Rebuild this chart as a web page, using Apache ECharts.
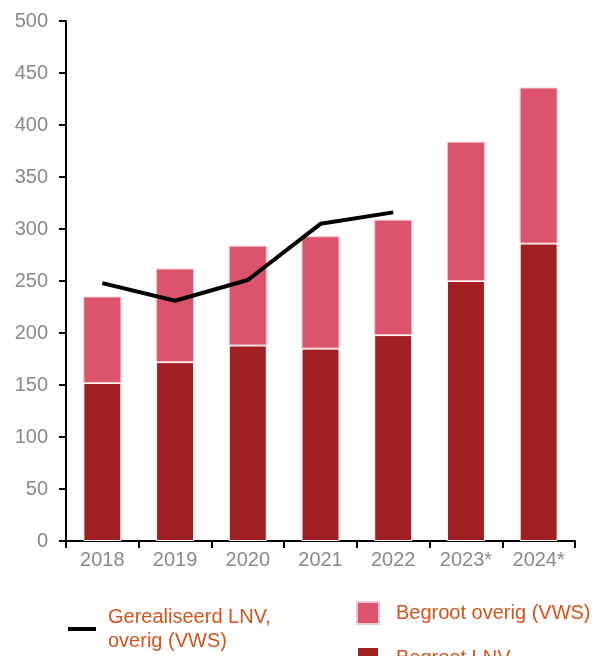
<!DOCTYPE html>
<html>
<head>
<meta charset="utf-8">
<script src="https://cdn.jsdelivr.net/npm/echarts@6/dist/echarts.min.js"></script>
<style>
html,body{margin:0;padding:0;background:#fff;}
#chart{width:608px;height:656px;}
</style>
</head>
<body>
<div id="chart"></div>
<script>
var jaren = ['2018', '2019', '2020', '2021', '2022', '2023*', '2024*'];
var begrootLNV = [152, 172, 188, 185, 198, 250, 286];
var begrootOverig = [83, 90, 96, 108, 111, 134, 150];
var gerealiseerd = [248, 231, 251, 305, 316, null, null];

var labelGrijs = '#8a8a8a';
var oranje = '#d4541b';

var chart = echarts.init(document.getElementById('chart'));
chart.setOption({
    animation: false,
    textStyle: {fontFamily: 'Liberation Sans, Arial, sans-serif'},
    grid: {left: 66, right: 33, top: 21, bottom: 115},
    legend: [
        {
            left: 68,
            top: 605,
            padding: 0,
            icon: 'rect',
            itemWidth: 28,
            itemHeight: 4,
            data: ['Gerealiseerd LNV,\noverig (VWS)'],
            textStyle: {color: oranje, fontSize: 20, lineHeight: 24, padding: [0, 0, 0, 7]}
        },
        {
            left: 356,
            top: 601,
            padding: 0,
            icon: 'rect',
            itemWidth: 22,
            itemHeight: 22,
            data: ['Begroot overig (VWS)'],
            textStyle: {color: oranje, fontSize: 20, padding: [0, 0, 0, 12]}
        },
        {
            left: 356,
            top: 646,
            padding: 0,
            icon: 'rect',
            itemWidth: 22,
            itemHeight: 22,
            data: ['Begroot LNV'],
            textStyle: {color: oranje, fontSize: 20, padding: [0, 0, 0, 12]}
        }
    ],
    xAxis: {
        type: 'category',
        data: jaren,
        axisLine: {lineStyle: {color: '#000', width: 2}},
        axisTick: {show: true, length: 7, lineStyle: {color: '#000', width: 2}},
        axisLabel: {color: labelGrijs, fontSize: 20, margin: 9}
    },
    yAxis: {
        type: 'value',
        min: 0,
        max: 500,
        interval: 50,
        axisLine: {show: true, lineStyle: {color: '#000', width: 2}},
        axisTick: {show: true, length: 7, lineStyle: {color: '#000', width: 2}},
        splitLine: {show: false},
        axisLabel: {color: labelGrijs, fontSize: 20, margin: 18}
    },
    series: [
        {
            name: 'Begroot LNV',
            type: 'bar',
            stack: 'begroot',
            barWidth: 38,
            itemStyle: {color: '#a11f22', borderColor: '#fff', borderWidth: 1},
            data: begrootLNV
        },
        {
            name: 'Begroot overig (VWS)',
            type: 'bar',
            stack: 'begroot',
            barWidth: 38,
            itemStyle: {color: '#db546b', borderColor: '#f4c6cf', borderWidth: 1},
            data: begrootOverig
        },
        {
            name: 'Gerealiseerd LNV,\noverig (VWS)',
            type: 'line',
            symbol: 'none',
            lineStyle: {color: '#000', width: 4},
            itemStyle: {color: '#000'},
            z: 5,
            data: gerealiseerd
        }
    ]
});
</script>
</body>
</html>
